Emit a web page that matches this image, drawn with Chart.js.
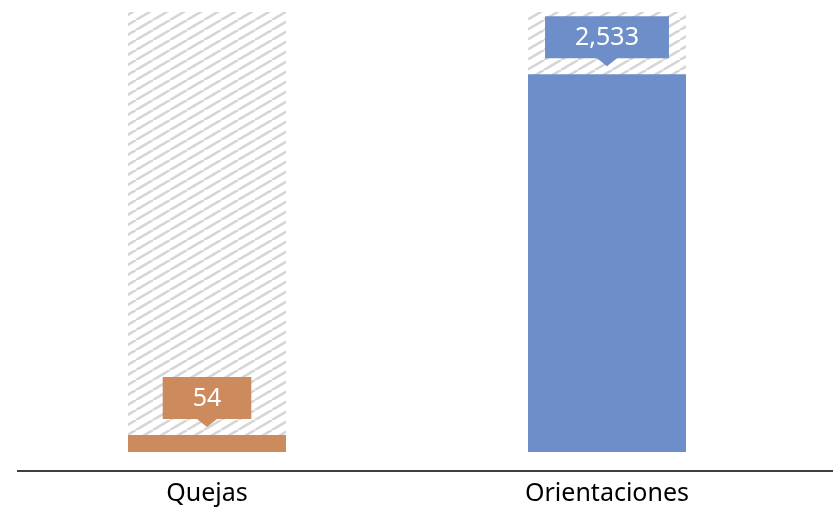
<!DOCTYPE html>
<html>
<head>
<meta charset="utf-8">
<script src="https://cdn.jsdelivr.net/npm/chart.js@4"></script>
<style>
    html, body { margin: 0; padding: 0; background: #ffffff; }
    #wrap { width: 833px; height: 507px; }
</style>
</head>
<body>
<div id="wrap"><canvas id="mainChart"></canvas></div>
<script>
// Chart data
const categories = ['Quejas', 'Orientaciones'];
const values = [54, 2533];
const backgroundValues = [2950, 2950];   // hatched full-height bars
const barColors = ['#CD8A5C', '#6D8EC8'];

// Scale limits
const yMin = -128;
const yMax = 2950;

const fontFamily = '"Noto Sans", Lato, sans-serif';

// Diagonal hatch pattern for the background bars
function makeHatch() {
    const w = 17, h = 10;
    const c = document.createElement('canvas');
    c.width = w; c.height = h;
    const g = c.getContext('2d');
    g.strokeStyle = '#d6d6d6';
    g.lineWidth = 2.6;
    [-1, 0, 1].forEach(k => {
        g.beginPath();
        g.moveTo(0 + k * w, h);
        g.lineTo(w + k * w, 0);
        g.stroke();
    });
    return g.createPattern(c, 'repeat');
}

// Callout labels above the coloured bars
const calloutPlugin = {
    id: 'callouts',
    afterDatasetsDraw(chart) {
        const ctx = chart.ctx;
        const meta = chart.getDatasetMeta(0);
        ctx.save();
        ctx.font = '25px ' + fontFamily;
        meta.data.forEach((bar, i) => {
            const text = values[i].toLocaleString('en-US');
            const tw = ctx.measureText(text).width;
            const bw = tw + 60, bh = 42, tipH = 8, tipW = 10;
            const tipY = bar.y - 8;
            const bottom = tipY - tipH;
            const top = bottom - bh;
            const x0 = bar.x - bw / 2;
            ctx.fillStyle = barColors[i];
            ctx.beginPath();
            ctx.moveTo(x0, top);
            ctx.lineTo(x0 + bw, top);
            ctx.lineTo(x0 + bw, bottom);
            ctx.lineTo(bar.x + tipW, bottom);
            ctx.lineTo(bar.x, tipY);
            ctx.lineTo(bar.x - tipW, bottom);
            ctx.lineTo(x0, bottom);
            ctx.closePath();
            ctx.fill();
            ctx.fillStyle = '#ffffff';
            ctx.textAlign = 'center';
            ctx.textBaseline = 'middle';
            ctx.fillText(text, bar.x, top + bh / 2 + 1);
        });
        ctx.restore();
    }
};

// Horizontal axis line spanning to the right edge
const axisLinePlugin = {
    id: 'axisLine',
    afterDatasetsDraw(chart) {
        const ctx = chart.ctx;
        const y = chart.chartArea.bottom;
        ctx.save();
        ctx.strokeStyle = '#3f3f3f';
        ctx.lineWidth = 2;
        ctx.beginPath();
        ctx.moveTo(17, y);
        ctx.lineTo(chart.width, y);
        ctx.stroke();
        ctx.restore();
    }
};

const ctxMain = document.getElementById('mainChart').getContext('2d');
new Chart(ctxMain, {
    type: 'bar',
    data: {
        labels: categories,
        datasets: [{
            data: values,
            backgroundColor: barColors,
            grouped: false,
            minBarLength: 17,
            barPercentage: 0.395,
            categoryPercentage: 1
        }, {
            data: backgroundValues,
            backgroundColor: makeHatch(),
            grouped: false,
            barPercentage: 0.395,
            categoryPercentage: 1
        }]
    },
    options: {
        responsive: true,
        maintainAspectRatio: false,
        animation: false,
        layout: { padding: { top: 12, left: 7, right: 26, bottom: -2 } },
        plugins: {
            legend: { display: false },
            tooltip: { enabled: false }
        },
        scales: {
            x: {
                grid: { display: false },
                border: { display: false },
                ticks: {
                    color: '#000000',
                    padding: 0,
                    font: { family: fontFamily, size: 25 }
                }
            },
            y: {
                display: false,
                min: yMin,
                max: yMax
            }
        }
    },
    plugins: [calloutPlugin, axisLinePlugin]
});
</script>
</body>
</html>
